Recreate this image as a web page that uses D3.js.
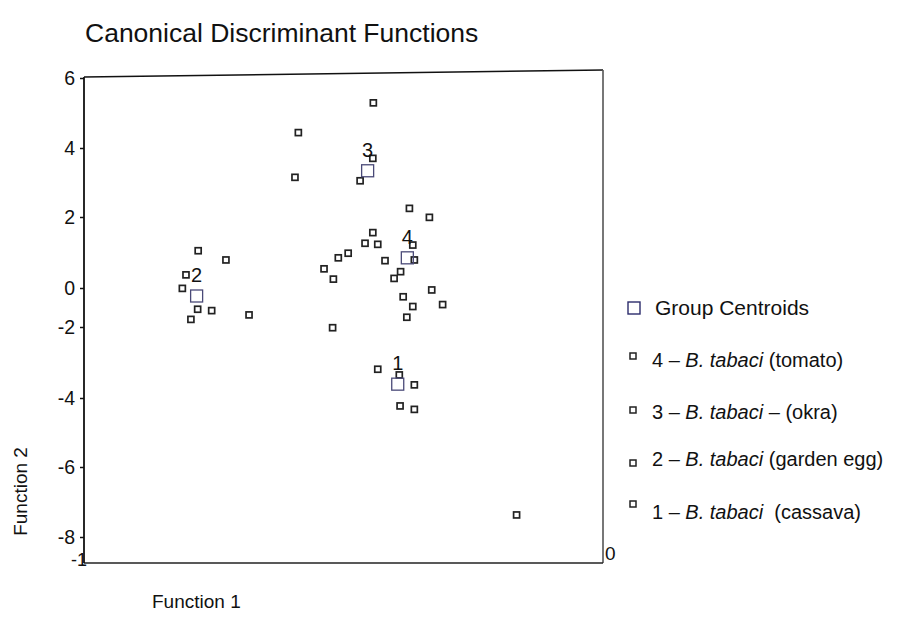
<!DOCTYPE html>
<html>
<head>
<meta charset="utf-8">
<script src="https://cdn.jsdelivr.net/npm/d3@7"></script>
<style>
  body { margin: 0; background: #fff; }
  text { font-family: "Liberation Sans", Arial, sans-serif; fill: #111; }
</style>
</head>
<body>
<svg width="919" height="632"></svg>
<script>
// tick labels on Function 2 axis
var yTicks = [6, 4, 2, 0, -2, -4, -6, -8];

// cases per group, [function 1, function 2]
var group1 = [[1.32, -3.19], [2.15, -3.35], [2.73, -3.63], [2.18, -4.23], [2.73, -4.33], [6.67, -7.37]];
var group2 = [[-5.60, 1.05], [-4.53, 0.79], [-6.07, 0.37], [-6.21, -0.02], [-5.62, -1.09],
              [-5.08, -1.16], [-5.88, -1.61], [-3.64, -1.38]];
var group3 = [[1.15, 5.29], [-1.74, 4.44], [-1.87, 3.15], [1.13, 3.70], [0.64, 3.05]];
var group4 = [[2.54, 2.25], [3.31, 1.99], [1.13, 1.56], [0.83, 1.26], [1.32, 1.23], [2.67, 1.21],
              [0.18, 0.98], [-0.20, 0.85], [-0.75, 0.54], [-0.39, 0.25], [1.60, 0.77], [2.73, 0.79],
              [2.20, 0.46], [1.95, 0.27], [3.40, -0.10], [2.30, -0.45], [3.82, -0.85], [2.67, -0.95],
              [2.44, -1.50], [-0.42, -2.02]];

var centroidNames = ["1", "2", "3", "4"];
var centroids = [[2.09, -3.61], [-5.66, -0.41], [0.93, 3.34], [2.46, 0.85]];

var legendNums = ["4", "3", "2", "1"];
var legendMid = [" ", " \u2013 ", " ", "  "];
var legendHosts = ["(tomato)", "(okra)", "(garden egg)", "(cassava)"];

var svg = d3.select("svg");

var x = d3.scaleLinear().domain([-10, 10]).range([84, 603]);
// the printed axis is not evenly spaced, so map each tick to where it sits
var y = d3.scaleLinear()
    .domain([6, 4, 2, 0, -2, -4, -6, -8, -10])
    .range([78, 148, 217, 288, 327, 398, 467, 537, 563]);

// Title
svg.append("text")
    .attr("x", 85)
    .attr("y", 42)
    .style("font-size", "26.5px")
    .text("Canonical Discriminant Functions");

// Frame
var frame = svg.append("g").attr("stroke-width", 1.6).attr("fill", "none");
frame.append("line")
    .attr("x1", x(-10)).attr("x2", x(10))
    .attr("y1", y(6) - 1).attr("y2", y(6) - 8)
    .attr("stroke", "#111");
frame.append("line")
    .attr("x1", x(10)).attr("x2", x(10))
    .attr("y1", y(6) - 8).attr("y2", y(-10))
    .attr("stroke", "#555");
frame.append("line")
    .attr("x1", x(-10)).attr("x2", x(10))
    .attr("y1", y(-10)).attr("y2", y(-10))
    .attr("stroke", "#222");

// Y axis
var yAxis = svg.append("g")
    .attr("transform", "translate(" + x(-10) + ",0)")
    .call(d3.axisLeft(y)
        .tickValues(yTicks)
        .tickFormat(function(d) { return String(d); })
        .tickSize(4)
        .tickPadding(5));
yAxis.select(".domain").attr("stroke", "#111").attr("stroke-width", 1.8)
    .attr("d", "M0," + (y(6) - 1) + "V" + y(-10));
yAxis.selectAll(".tick line").attr("stroke", "#111").attr("stroke-width", 1.5);
yAxis.selectAll(".tick text")
    .style("font-size", "19.5px")
    .style("font-family", "Liberation Sans, Arial, sans-serif")
    .attr("fill", "#111");

// cut-off tick labels at the corners
svg.append("text")
    .attr("x", x(-10) + 3).attr("y", y(-10) + 3)
    .attr("text-anchor", "end")
    .style("font-size", "18px")
    .text("-1");
svg.append("text")
    .attr("x", x(10) + 2).attr("y", y(-10) - 3)
    .style("font-size", "19px")
    .text("0");

// Axis titles
svg.append("text")
    .attr("transform", "translate(27," + y(-6.7) + ") rotate(-90)")
    .attr("text-anchor", "middle")
    .style("font-size", "19px")
    .text("Function 2");
svg.append("text")
    .attr("x", 152)
    .attr("y", 608)
    .style("font-size", "19px")
    .text("Function 1");

// Cases
var cases = [].concat(group1, group2, group3, group4);
svg.append("g").selectAll("rect")
    .data(cases)
    .enter().append("rect")
    .attr("x", function(d) { return x(d[0]) - 3; })
    .attr("y", function(d) { return y(d[1]) - 3; })
    .attr("width", 6)
    .attr("height", 6)
    .attr("fill", "#fff")
    .attr("stroke", "#222")
    .attr("stroke-width", 1.7);

// Group centroids
svg.append("g").selectAll("rect")
    .data(centroids)
    .enter().append("rect")
    .attr("x", function(d) { return x(d[0]) - 6; })
    .attr("y", function(d) { return y(d[1]) - 6; })
    .attr("width", 12)
    .attr("height", 12)
    .attr("fill", "none")
    .attr("stroke", "#4a4a78")
    .attr("stroke-width", 1.3);

svg.append("g").selectAll("text")
    .data(centroids)
    .enter().append("text")
    .attr("x", function(d) { return x(d[0]); })
    .attr("y", function(d) { return y(d[1]) - 21; })
    .attr("dy", "0.35em")
    .attr("text-anchor", "middle")
    .style("font-size", "20px")
    .text(function(d, i) { return centroidNames[i]; });

// Legend
var legendY = [360, 412, 459, 512];
var markerShift = [-4, -2, 4, -8];

svg.append("rect")
    .attr("x", 628).attr("y", 302)
    .attr("width", 12).attr("height", 12)
    .attr("fill", "none")
    .attr("stroke", "#2c2c6c")
    .attr("stroke-width", 1.4);
svg.append("text")
    .attr("x", 655).attr("y", 308)
    .attr("dy", "0.35em")
    .style("font-size", "21px")
    .text("Group Centroids");

var rows = svg.append("g").selectAll("g")
    .data(legendNums)
    .enter().append("g")
    .attr("transform", function(d, i) { return "translate(0," + legendY[i] + ")"; });

rows.append("rect")
    .attr("x", 630)
    .attr("y", function(d, i) { return markerShift[i] - 3; })
    .attr("width", 6).attr("height", 6)
    .attr("fill", "#fff")
    .attr("stroke", "#222")
    .attr("stroke-width", 1.5);

var label = rows.append("text")
    .attr("x", 652)
    .attr("dy", "0.35em")
    .style("font-size", "20px")
    .style("white-space", "pre")
    .attr("xml:space", "preserve");
label.append("tspan").text(function(d) { return d + " \u2013 "; });
label.append("tspan").style("font-style", "italic").text("B. tabaci");
label.append("tspan").text(function(d, i) { return legendMid[i] + legendHosts[i]; });
</script>
</body>
</html>
